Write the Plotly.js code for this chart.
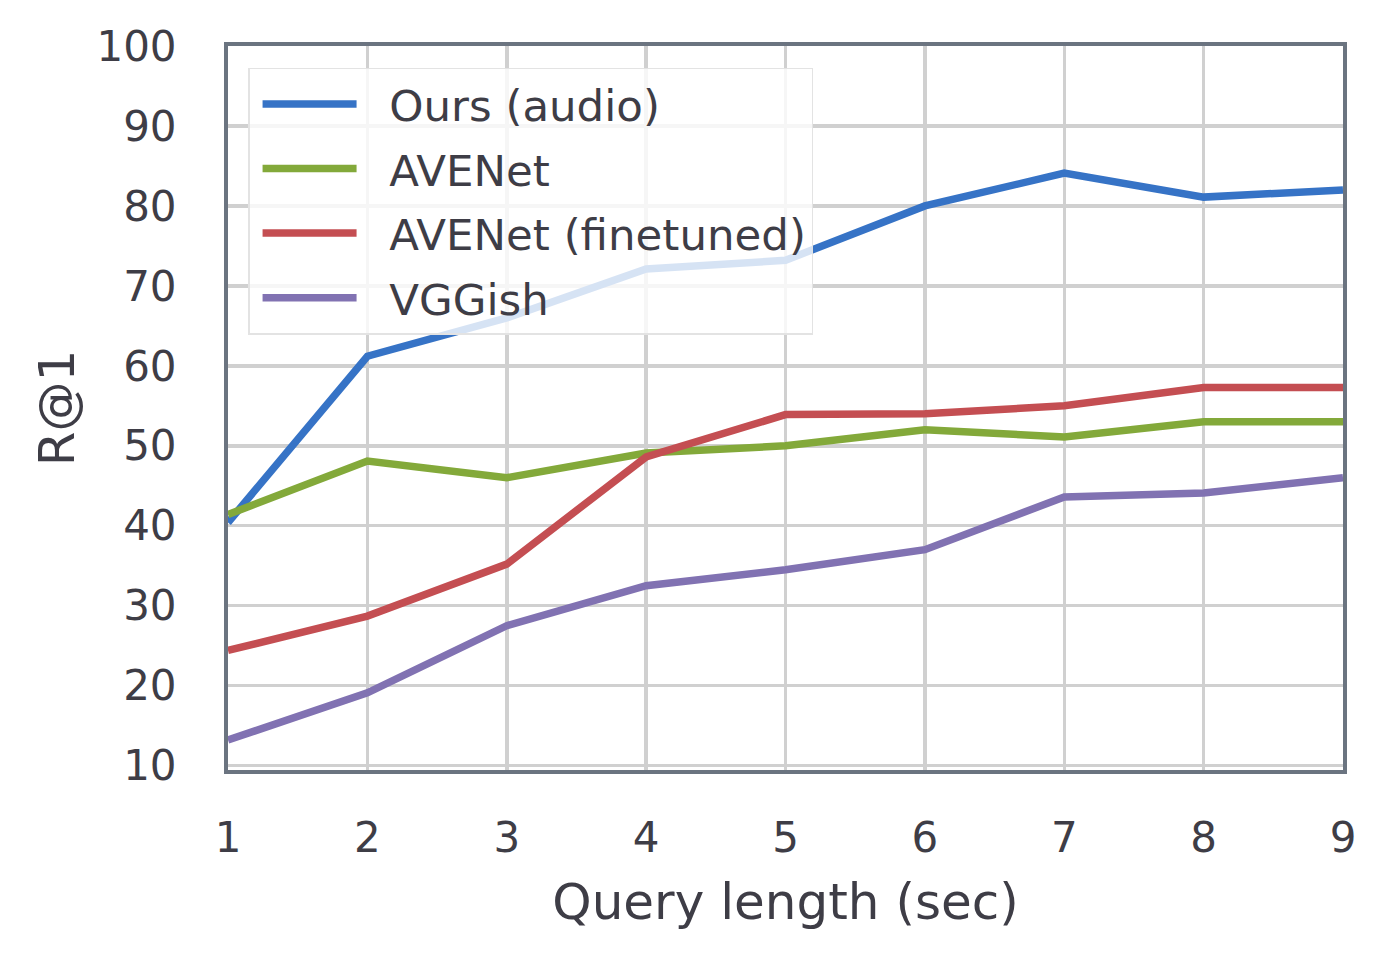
<!DOCTYPE html>
<html>
<head>
<meta charset="utf-8">
<script src="https://cdn.plot.ly/plotly-3.0.1.min.js"></script>
<style>html,body{margin:0;padding:0;background:#fff;}#chart{width:1386px;height:957px;}</style>
</head>
<body>
<div id="chart"></div>
<script>
const queryLength = [1, 2, 3, 4, 5, 6, 7, 8, 9];
const seriesNames = ["Ours (audio)", "AVENet", "AVENet (finetuned)", "VGGish"];
const oursAudio = [40.4, 61.2, 66.0, 72.1, 73.2, 80.0, 84.1, 81.1, 82.0];
const avenet = [41.4, 48.1, 46.0, 49.1, 50.0, 52.0, 51.1, 53.0, 53.0];
const avenetFinetuned = [24.4, 28.7, 35.2, 48.6, 53.9, 54.0, 55.0, 57.3, 57.3];
const vggish = [13.2, 19.1, 27.5, 32.5, 34.5, 37.0, 43.6, 44.1, 46.0];
const yTicks = [10, 20, 30, 40, 50, 60, 70, 80, 90, 100];

const colors = ["#3673c6", "#83a93a", "#c44e52", "#8172b2"];
const allSeries = [oursAudio, avenet, avenetFinetuned, vggish];
const textColor = "#3e3d46";
const font = "DejaVu Sans, sans-serif";
const pad = "\u00A0\u00A0";

const traces = allSeries.map((vals, i) => ({
  x: queryLength,
  y: vals,
  name: pad + seriesNames[i],
  legendgroup: "g" + i,
  type: "scatter",
  mode: "lines",
  line: {color: colors[i], width: 7.5}
}));

const layout = {
  width: 1386,
  height: 957,
  margin: {l: 228, r: 43, t: 46, b: 187, pad: 0},
  paper_bgcolor: "#ffffff",
  plot_bgcolor: "#ffffff",
  font: {family: font, color: textColor, size: 43},
  showlegend: true,
  legend: {
    x: 0.018, y: 0.97, xanchor: "left", yanchor: "top",
    bgcolor: "rgba(255,255,255,0.8)",
    bordercolor: "#e3e3e3",
    borderwidth: 1.5,
    font: {family: font, color: textColor, size: 43.5},
    itemwidth: 94,
    indentation: 8,
    traceorder: "grouped",
    tracegroupgap: 5
  },
  xaxis: {
    range: [1, 9],
    tickvals: queryLength,
    ticktext: queryLength.map(String),
    showgrid: true, gridcolor: "#d0d0d0", gridwidth: 3.5,
    zeroline: false,
    showline: true, mirror: true, linecolor: "#6b7480", linewidth: 4,
    ticks: "",
    ticklabelstandoff: 28,
    tickfont: {family: font, color: textColor, size: 42},
    title: {text: "Query length (sec)", font: {family: font, color: textColor, size: 50}, standoff: 24}
  },
  yaxis: {
    range: [9.45, 100],
    tickvals: yTicks,
    ticktext: yTicks.map(String),
    showgrid: true, gridcolor: "#d0d0d0", gridwidth: 3.5,
    zeroline: false,
    showline: true, mirror: true, linecolor: "#6b7480", linewidth: 4,
    ticks: "",
    ticklabelstandoff: 39,
    tickfont: {family: font, color: textColor, size: 42},
    title: {text: "R@1", font: {family: font, color: textColor, size: 50}, standoff: 7}
  }
};

Plotly.newPlot("chart", traces, layout, {displayModeBar: false, staticPlot: true});
</script>
</body>
</html>
